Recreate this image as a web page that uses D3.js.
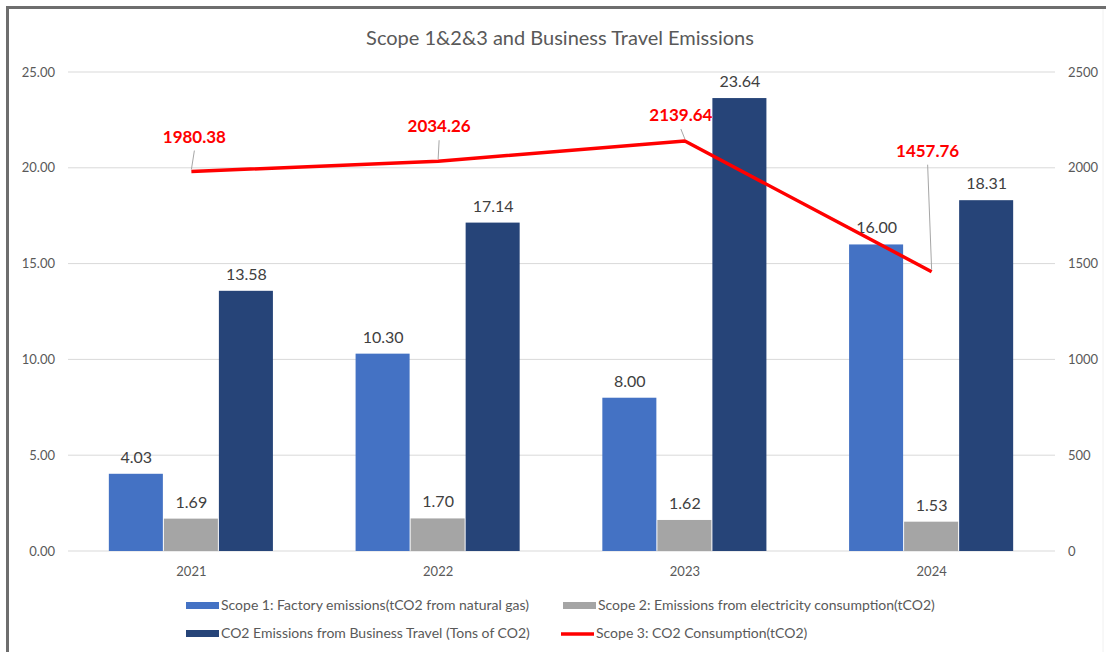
<!DOCTYPE html>
<html>
<head>
<meta charset="utf-8">
<script src="https://cdn.jsdelivr.net/npm/d3@7"></script>
<style>
  body { margin: 0; background: #fff; }
  text { font-family: Lato, "Open Sans", sans-serif; }
</style>
</head>
<body>
<script>
// data
var years = ["2021", "2022", "2023", "2024"];
var scope1 = [4.03, 10.30, 8.00, 16.00];
var scope2 = [1.69, 1.70, 1.62, 1.53];
var travel = [13.58, 17.14, 23.64, 18.31];
var scope3 = [1980.38, 2034.26, 2139.64, 1457.76];
var leftTicks = [0, 5, 10, 15, 20, 25];
var rightTicks = [0, 500, 1000, 1500, 2000, 2500];

var barNames = ["Scope 1: Factory emissions(tCO2 from natural gas)",
                "Scope 2: Emissions from electricity consumption(tCO2)",
                "CO2 Emissions from Business Travel (Tons of CO2)"];
var lineName = "Scope 3: CO2 Consumption(tCO2)";
var barColors = ["#4472c4", "#a5a5a5", "#264478"];

// label placement for the red line labels (layout, not data)
var lineLabelOffsets = [[3, -29], [1, -29], [-4, -20], [-4, -115]];

var w = 1106, h = 652;
var plotLeft = 68, plotRight = 1055, plotTop = 72, plotBottom = 551;

var svg = d3.select("body").append("svg")
    .attr("width", w)
    .attr("height", h);

// frame
svg.append("path")
    .attr("d", "M7.5," + h + "V7.5H" + w)
    .attr("fill", "none")
    .attr("stroke", "#6e6e6e")
    .attr("stroke-width", 3);
svg.append("line")
    .attr("x1", 1103).attr("x2", 1103).attr("y1", 9).attr("y2", h)
    .attr("stroke", "#f0f0f0");

var x0 = d3.scaleBand().domain(years).range([plotLeft, plotRight])
    .paddingInner(0.331).paddingOuter(0.1655);
var x1 = d3.scaleBand().domain([0, 1, 2]).range([0, x0.bandwidth()]);
var y = d3.scaleLinear().domain([0, 25]).range([plotBottom, plotTop]);
var yR = d3.scaleLinear().domain([0, 2500]).range([plotBottom, plotTop]);

// title
svg.append("text")
    .attr("x", 560).attr("y", 45)
    .attr("text-anchor", "middle")
    .style("font-size", "20px")
    .style("fill", "#595959")
    .text("Scope 1&2&3 and Business Travel Emissions");

// grid
svg.append("g").selectAll("line")
    .data(leftTicks)
    .enter().append("line")
    .attr("x1", plotLeft).attr("x2", plotRight)
    .attr("y1", function(d){ return y(d); })
    .attr("y2", function(d){ return y(d); })
    .attr("stroke", "#d9d9d9")
    .attr("stroke-width", 1);

// left axis
var gl = svg.append("g")
    .attr("transform", "translate(" + (plotLeft - 13) + ",0)")
    .call(d3.axisLeft(y).tickValues(leftTicks).tickFormat(d3.format(".2f")).tickSize(0).tickPadding(0));
gl.select(".domain").remove();
gl.selectAll("text").style("font-size", "13px").style("fill", "#595959").style("font-family", "Lato, sans-serif");

// right axis
var gr = svg.append("g")
    .attr("transform", "translate(" + (plotRight + 13) + ",0)")
    .call(d3.axisRight(yR).tickValues(rightTicks).tickFormat(d3.format("d")).tickSize(0).tickPadding(0));
gr.select(".domain").remove();
gr.selectAll("text").style("font-size", "13px").style("fill", "#595959").style("font-family", "Lato, sans-serif");

// category axis
var gx = svg.append("g")
    .attr("transform", "translate(0," + plotBottom + ")")
    .call(d3.axisBottom(x0).tickSize(0).tickPadding(16));
gx.select(".domain").remove();
gx.selectAll("text").style("font-size", "13px").style("fill", "#595959").style("font-family", "Lato, sans-serif");

// bars
var series = [scope1, scope2, travel];
series.forEach(function(vals, si){
    var g = svg.append("g");
    g.selectAll("rect")
        .data(vals)
        .enter().append("rect")
        .attr("x", function(d, i){ return x0(years[i]) + x1(si); })
        .attr("y", function(d){ return y(d); })
        .attr("width", x1.bandwidth() - 1)
        .attr("height", function(d){ return plotBottom - y(d); })
        .attr("fill", barColors[si]);
    g.selectAll("text")
        .data(vals)
        .enter().append("text")
        .attr("x", function(d, i){ return x0(years[i]) + x1(si) + x1.bandwidth() / 2; })
        .attr("y", function(d){ return y(d) - 11; })
        .attr("text-anchor", "middle")
        .style("font-size", "16px")
        .style("fill", "#404040")
        .text(function(d){ return d3.format(".2f")(d); });
});

// scope 3 line
var cx = function(i){ return x0(years[i]) + x0.bandwidth() / 2; };
var line = d3.line()
    .x(function(d, i){ return cx(i); })
    .y(function(d){ return yR(d); });
svg.append("path")
    .datum(scope3)
    .attr("d", line)
    .attr("fill", "none")
    .attr("stroke", "#ff0000")
    .attr("stroke-width", 3.5)
    .attr("stroke-linejoin", "round");

// leader lines + labels
var lab = svg.append("g");
scope3.forEach(function(d, i){
    var px = cx(i), py = yR(d);
    var lx = px + lineLabelOffsets[i][0], ly = py + lineLabelOffsets[i][1];
    lab.append("line")
        .attr("x1", px).attr("y1", py - 2)
        .attr("x2", lx).attr("y2", ly + 8)
        .attr("stroke", "#a6a6a6")
        .attr("stroke-width", 1);
    lab.append("text")
        .attr("x", lx).attr("y", ly)
        .attr("text-anchor", "middle")
        .style("font-size", "17px")
        .style("font-weight", "bold")
        .style("fill", "#ff0000")
        .text(d3.format(".2f")(d));
});

// legend
var legend = [
    {name: barNames[0], type: "rect", color: barColors[0], x: 186, y: 605},
    {name: barNames[1], type: "rect", color: barColors[1], x: 563, y: 605},
    {name: barNames[2], type: "rect", color: barColors[2], x: 186, y: 633},
    {name: lineName, type: "line", color: "#ff0000", x: 561, y: 633}
];
var lg = svg.append("g").selectAll("g")
    .data(legend)
    .enter().append("g")
    .attr("transform", function(d){ return "translate(" + d.x + "," + d.y + ")"; });
lg.filter(function(d){ return d.type == "rect"; })
    .append("rect")
    .attr("x", 0).attr("y", -3)
    .attr("width", 33).attr("height", 7)
    .attr("fill", function(d){ return d.color; });
lg.filter(function(d){ return d.type == "line"; })
    .append("line")
    .attr("x1", 0).attr("x2", 33).attr("y1", 1).attr("y2", 1)
    .attr("stroke", function(d){ return d.color; })
    .attr("stroke-width", 3.5);
lg.append("text")
    .attr("x", 35).attr("y", 5)
    .style("font-size", "14px")
    .style("fill", "#595959")
    .text(function(d){ return d.name; });
</script>
</body>
</html>
